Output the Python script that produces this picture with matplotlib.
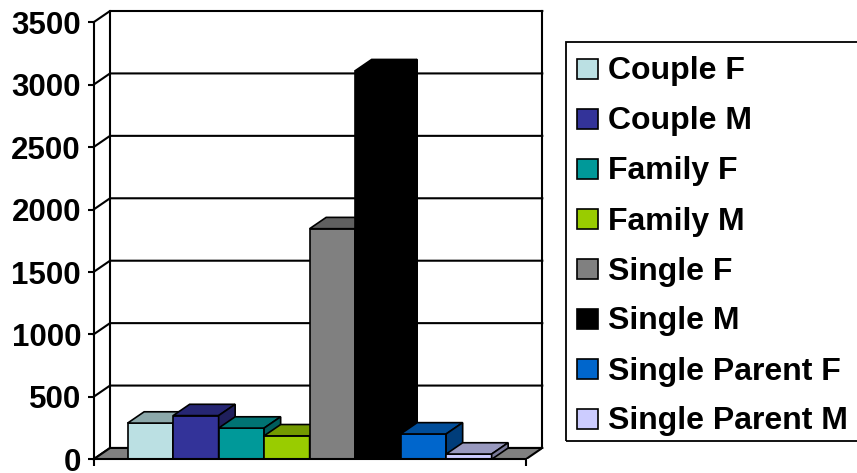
import numpy as np
import matplotlib.pyplot as plt
from matplotlib.patches import Polygon, Rectangle
from matplotlib.colors import to_rgb

plt.rcParams['font.family'] = ['Liberation Sans', 'DejaVu Sans']

categories = ['Couple F', 'Couple M', 'Family F', 'Family M',
              'Single F', 'Single M', 'Single Parent F', 'Single Parent M']
values = [290, 350, 250, 188, 1847, 3112, 203, 42]
colors = ['#BBE0E3', '#333399', '#009999', '#99CC00',
          '#808080', '#000000', '#0066CC', '#CCCCFF']
yticks = [0, 500, 1000, 1500, 2000, 2500, 3000, 3500]

W, H = 857, 473
fig = plt.figure(figsize=(W / 100, H / 100), dpi=100)
ax = fig.add_axes([93.5 / W, (H - 459.3) / H, (542.3 - 93.5) / W, (459.3 - 11) / H])

ymax = yticks[-1]
dx = 0.363      # depth in bar widths
dy = 90.6       # depth in value units
floor_w = len(categories) + 1.5
gap = 0.75
lw = 1.5

ax.set_xlim(0, floor_w + dx)
ax.set_ylim(0, ymax + dy)

# back wall and side wall gridlines
for v in yticks:
    ax.plot([0, dx, floor_w + dx], [v, v + dy, v + dy], color='black', lw=lw,
            zorder=1, clip_on=False, solid_capstyle='projecting')
for xx in [dx, floor_w + dx]:
    ax.plot([xx, xx], [dy, ymax + dy], color='black', lw=lw, zorder=1, clip_on=False)

# floor
ax.add_patch(Polygon([(0, 0), (floor_w, 0), (floor_w + dx, dy), (dx, dy)],
                     closed=True, fc='#808080', ec='black', lw=lw, zorder=2))


def shade(c, f):
    return tuple(np.array(to_rgb(c)) * f)


# 3d-looking bars
for i, (v, c) in enumerate(zip(values, colors)):
    x0 = gap + i
    z = 3 + i
    ax.bar(x0, v, width=1, align='edge', color=c, edgecolor='black', lw=1.2, zorder=z)
    ax.add_patch(Polygon([(x0, v), (x0 + 1, v), (x0 + 1 + dx, v + dy), (x0 + dx, v + dy)],
                         closed=True, fc=shade(c, 0.75), ec='black', lw=1.2, zorder=z))
    ax.add_patch(Polygon([(x0 + 1, 0), (x0 + 1 + dx, dy), (x0 + 1 + dx, v + dy), (x0 + 1, v)],
                         closed=True, fc=shade(c, 0.6), ec='black', lw=1.2, zorder=z))

for s in ['top', 'right']:
    ax.spines[s].set_visible(False)
ax.spines['left'].set_bounds(0, ymax)
ax.spines['bottom'].set_bounds(0, floor_w)
for s in ['left', 'bottom']:
    ax.spines[s].set_linewidth(lw)
    ax.spines[s].set_zorder(20)
ax.set_facecolor('none')

ax.set_yticks(yticks)
ax.set_yticklabels([str(t) for t in yticks], fontsize=22.5, fontweight='bold')
ax.tick_params(axis='y', length=4, width=lw, pad=5)
ax.set_xticks([0, floor_w])
ax.set_xticklabels(['', ''])
ax.tick_params(axis='x', length=5, width=lw)

# legend box
leg_left, leg_top, leg_bottom = 566, 41.7, 441
fig.patches.append(Rectangle((leg_left / W, 1 - leg_bottom / H), (W + 10 - leg_left) / W,
                             (leg_bottom - leg_top) / H, transform=fig.transFigure,
                             fill=False, ec='black', lw=1.3, clip_on=False))
for i, (name, c) in enumerate(zip(categories, colors)):
    cy = 69 + 50 * i
    fig.patches.append(Rectangle((577.3 / W, 1 - (cy + 10) / H), 20.7 / W, 20 / H,
                                 transform=fig.transFigure, fc=c, ec='black', lw=1.2))
    fig.text(608 / W, 1 - (cy + 10.5) / H, name, fontsize=23, fontweight='bold',
             va='baseline', ha='left')

fig.savefig('out.png', dpi=100)
